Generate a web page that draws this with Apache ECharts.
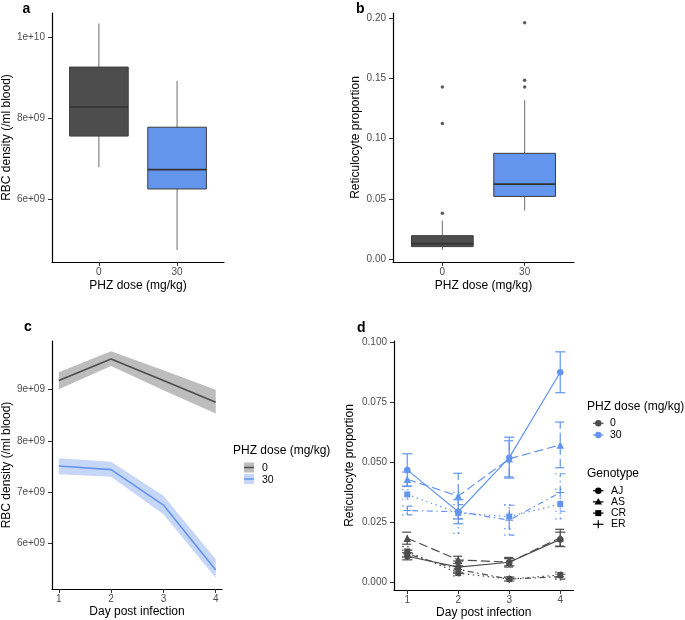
<!DOCTYPE html>
<html><head><meta charset="utf-8">
<script src="https://cdn.jsdelivr.net/npm/echarts@6/dist/echarts.min.js"></script>
<style>html,body{margin:0;padding:0;background:#fff}#c{width:685px;height:620px}</style>
</head><body><div id="c"></div>
<script>
// ---------- DATA ----------
const doseX = [1, 2];
const doseLabels = ['0', '30'];
// boxplots: [lower whisker, Q1, median, Q3, upper whisker]
const rbcBox0 = [6.79e9, 7.56e9, 8.28e9, 9.27e9, 10.35e9];
const rbcBox30 = [4.74e9, 6.25e9, 6.73e9, 7.78e9, 8.93e9];
const retBox0 = [0.0075, 0.0103, 0.0128, 0.0194, 0.032];
const retBox30 = [0.0403, 0.052, 0.0622, 0.0878, 0.132];
const retOutliers0 = [0.038, 0.1125, 0.143];
const retOutliers30 = [0.143, 0.1486, 0.1964];
const rbcTicks = [6e9, 8e9, 1e10];
const rbcTickLabels = ['6e+09', '8e+09', '1e+10'];
const retTicks = [0, 0.05, 0.1, 0.15, 0.2];
const retTickLabels = ['0.00', '0.05', '0.10', '0.15', '0.20'];

const days = [1, 2, 3, 4];
const dayLabels = ['1', '2', '3', '4'];
const rbcDayMean0 = [9.17e9, 9.59e9, 9.17e9, 8.75e9];
const rbcDayLow0 = [9.0e9, 9.45e9, 8.98e9, 8.53e9];
const rbcDayHigh0 = [9.33e9, 9.74e9, 9.37e9, 8.99e9];
const rbcDayMean30 = [7.51e9, 7.44e9, 6.75e9, 5.49e9];
const rbcDayLow30 = [7.35e9, 7.30e9, 6.57e9, 5.34e9];
const rbcDayHigh30 = [7.66e9, 7.59e9, 6.93e9, 5.70e9];
const rbcDayTicks = [6e9, 7e9, 8e9, 9e9];
const rbcDayTickLabels = ['6e+09', '7e+09', '8e+09', '9e+09'];

const genotypes = ['AJ', 'AS', 'CR', 'ER'];
const ret0AJ = [0.011, 0.0065, 0.0085, 0.018];
const ret0AS = [0.0185, 0.0095, 0.0085, 0.0187];
const ret0CR = [0.013, 0.004, 0.0015, 0.0032];
const ret0ER = [0.012, 0.0055, 0.0015, 0.0025];
const se0AJ = [0.0015, 0.0025, 0.0015, 0.003];
const se0AS = [0.0025, 0.0015, 0.002, 0.0035];
const se0CR = [0.002, 0.0012, 0.0008, 0.0012];
const se0ER = [0.0015, 0.0015, 0.0008, 0.001];
const ret30AJ = [0.0469, 0.0295, 0.052, 0.0875];
const ret30AS = [0.043, 0.036, 0.0515, 0.0573];
const ret30CR = [0.0367, 0.029, 0.0275, 0.0327];
const ret30ER = [0.030, 0.0295, 0.026, 0.0375];
const se30AJ = [0.0067, 0.005, 0.0085, 0.0085];
const se30AS = [0.003, 0.0095, 0.0075, 0.0095];
const se30CR = [0.002, 0.0085, 0.005, 0.0062];
const se30ER = [0.0018, 0.003, 0.0062, 0.0078];
const retDayTicks = [0, 0.025, 0.05, 0.075, 0.1];
const retDayTickLabels = ['0.000', '0.025', '0.050', '0.075', '0.100'];

// ---------- STYLE ----------
const FONT = 'Liberation Sans, Arial, sans-serif';
const DARK = '#4D4D4D';
const BLUE = '#6495ED';
const PLUS = 'path://M0,4.4H10V5.6H0Z M4.4,0H5.6V10H4.4Z';

function labelFor(ticks, labels) {
  return function (v) {
    for (let i = 0; i < ticks.length; i++) {
      if (Math.abs(ticks[i] - v) <= Math.abs(ticks[i]) * 1e-6 + 1e-12) return labels[i];
    }
    return '';
  };
}
function axisCfg(kind, gi, min, max, ticks, labels, name, gap) {
  const isX = kind === 'x';
  return {
    type: 'value', gridIndex: gi, min: min, max: max,
    splitLine: { show: false },
    axisLine: { show: true, onZero: false, lineStyle: { color: '#000', width: 1.2 } },
    axisTick: { show: true, customValues: ticks, length: 4, lineStyle: { color: '#333', width: 1 } },
    axisLabel: { customValues: ticks, formatter: labelFor(ticks, labels), color: DARK,
      fontFamily: FONT, fontSize: 10, margin: isX ? 5 : 7 },
    name: name, nameLocation: 'middle', nameGap: gap,
    nameTextStyle: { fontFamily: FONT, fontSize: 12, color: '#000' }
  };
}

const grids = [
  { left: 51, top: 13, width: 173, height: 249 },
  { left: 393, top: 13, width: 181, height: 249 },
  { left: 51.5, top: 341, width: 170.5, height: 248 },
  { left: 394, top: 341, width: 179.5, height: 249 }
];

const xAxes = [
  axisCfg('x', 0, 0.4, 2.6, doseX, doseLabels, 'PHZ dose (mg/kg)', 18),
  axisCfg('x', 1, 0.4, 2.6, doseX, doseLabels, 'PHZ dose (mg/kg)', 18),
  axisCfg('x', 2, 0.87, 4.12, days, dayLabels, 'Day post infection', 17),
  axisCfg('x', 3, 0.74, 4.26, days, dayLabels, 'Day post infection', 17)
];
const yAxes = [
  axisCfg('y', 0, 4.44e9, 10.61e9, rbcTicks, rbcTickLabels, 'RBC density (/ml blood)', 37),
  axisCfg('y', 1, -0.0025, 0.2044, retTicks, retTickLabels, 'Reticulocyte proportion', 31),
  axisCfg('y', 2, 5.12e9, 9.938e9, rbcDayTicks, rbcDayTickLabels, 'RBC density (/ml blood)', 38),
  axisCfg('y', 3, -0.00304, 0.1005, retDayTicks, retDayTickLabels, 'Reticulocyte proportion', 38)
];

function boxRender(fills) {
  return function (params, api) {
    const x = api.value(0);
    const lo = api.value(1), q1 = api.value(2), med = api.value(3), q3 = api.value(4), hi = api.value(5);
    const hw = 0.375;
    const tl = api.coord([x - hw, q3]);
    const br = api.coord([x + hw, q1]);
    const cHi = api.coord([x, hi]), cQ3 = api.coord([x, q3]), cQ1 = api.coord([x, q1]), cLo = api.coord([x, lo]);
    const mL = api.coord([x - hw, med]), mR = api.coord([x + hw, med]);
    const wStyle = { stroke: '#7a7a7a', lineWidth: 1.1 };
    return {
      type: 'group', children: [
        { type: 'line', shape: { x1: cHi[0], y1: cHi[1], x2: cQ3[0], y2: cQ3[1] }, style: wStyle },
        { type: 'line', shape: { x1: cQ1[0], y1: cQ1[1], x2: cLo[0], y2: cLo[1] }, style: wStyle },
        { type: 'rect', shape: { x: tl[0], y: tl[1], width: br[0] - tl[0], height: br[1] - tl[1] },
          style: { fill: fills[params.dataIndex], stroke: '#3d3d3d', lineWidth: 1 } },
        { type: 'line', shape: { x1: mL[0], y1: mL[1], x2: mR[0], y2: mR[1] }, style: { stroke: '#333', lineWidth: 1.6 } }
      ]
    };
  };
}

function bandRender(upper, lower, fill) {
  return function (params, api) {
    if (params.dataIndex !== 0) return null;
    const pts = [];
    for (let i = 0; i < days.length; i++) pts.push(api.coord([days[i], upper[i]]));
    for (let i = days.length - 1; i >= 0; i--) pts.push(api.coord([days[i], lower[i]]));
    return { type: 'polygon', shape: { points: pts }, style: { fill: fill } };
  };
}

function errRender(color, dash) {
  return function (params, api) {
    const x = api.value(0);
    const a = api.coord([x, api.value(1)]), b = api.coord([x, api.value(2)]);
    const l1 = api.coord([x - 0.1, api.value(1)]), r1 = api.coord([x + 0.1, api.value(1)]);
    const l2 = api.coord([x - 0.1, api.value(2)]), r2 = api.coord([x + 0.1, api.value(2)]);
    const st = { stroke: color, lineWidth: 1.2, lineDash: dash === 'solid' ? null : dash };
    return {
      type: 'group', children: [
        { type: 'line', shape: { x1: a[0], y1: a[1], x2: b[0], y2: b[1] }, style: st },
        { type: 'line', shape: { x1: l1[0], y1: l1[1], x2: r1[0], y2: r1[1] }, style: st },
        { type: 'line', shape: { x1: l2[0], y1: l2[1], x2: r2[0], y2: r2[1] }, style: st }
      ]
    };
  };
}

const series = [];
// Panel a
series.push({ type: 'custom', xAxisIndex: 0, yAxisIndex: 0, clip: false,
  renderItem: boxRender([DARK, BLUE]),
  data: [[doseX[0]].concat(rbcBox0), [doseX[1]].concat(rbcBox30)] });
// Panel b
series.push({ type: 'custom', xAxisIndex: 1, yAxisIndex: 1, clip: false,
  renderItem: boxRender([DARK, BLUE]),
  data: [[doseX[0]].concat(retBox0), [doseX[1]].concat(retBox30)] });
series.push({ type: 'scatter', xAxisIndex: 1, yAxisIndex: 1, symbolSize: 3.5,
  itemStyle: { color: '#333' },
  data: retOutliers0.map(v => [doseX[0], v]).concat(retOutliers30.map(v => [doseX[1], v])) });
// Panel c
series.push({ type: 'custom', xAxisIndex: 2, yAxisIndex: 2, renderItem: bandRender(rbcDayHigh0, rbcDayLow0, '#BDBDBD'),
  data: days.map((d, i) => [d, rbcDayMean0[i]]) });
series.push({ type: 'custom', xAxisIndex: 2, yAxisIndex: 2, renderItem: bandRender(rbcDayHigh30, rbcDayLow30, '#C6D6F7'),
  data: days.map((d, i) => [d, rbcDayMean30[i]]) });
series.push({ type: 'line', xAxisIndex: 2, yAxisIndex: 2, showSymbol: false, symbol: 'none',
  lineStyle: { color: DARK, width: 1.6 }, data: days.map((d, i) => [d, rbcDayMean0[i]]) });
series.push({ type: 'line', xAxisIndex: 2, yAxisIndex: 2, showSymbol: false, symbol: 'none',
  lineStyle: { color: BLUE, width: 1.6 }, data: days.map((d, i) => [d, rbcDayMean30[i]]) });
// Panel d
const genoStyles = [
  { symbol: 'circle', size: 6.5, dash: 'solid' },
  { symbol: 'triangle', size: 7.5, dash: [9, 4] },
  { symbol: 'rect', size: 6, dash: [1.5, 3.5] },
  { symbol: PLUS, size: 8, dash: [1.5, 3.5, 6, 3.5] }
];
const doseGroups = [
  { color: DARK, means: [ret0AJ, ret0AS, ret0CR, ret0ER], ses: [se0AJ, se0AS, se0CR, se0ER] },
  { color: BLUE, means: [ret30AJ, ret30AS, ret30CR, ret30ER], ses: [se30AJ, se30AS, se30CR, se30ER] }
];
doseGroups.forEach(g => {
  genotypes.forEach((gt, k) => {
    const st = genoStyles[k];
    const m = g.means[k], s = g.ses[k];
    series.push({ type: 'custom', xAxisIndex: 3, yAxisIndex: 3, clip: false,
      renderItem: errRender(g.color, st.dash),
      data: days.map((d, i) => [d, m[i] - s[i], m[i] + s[i]]) });
    series.push({ type: 'line', xAxisIndex: 3, yAxisIndex: 3, symbol: st.symbol, symbolSize: st.size,
      showSymbol: true, itemStyle: { color: g.color, opacity: 1 },
      lineStyle: { color: g.color, width: 1.2, type: st.dash },
      data: days.map((d, i) => [d, m[i]]) });
  });
});

// ---------- legends & panel letters (graphics) ----------
function txt(x, y, text, size, bold, align) {
  return { type: 'text', x: x, y: y, silent: true,
    style: { text: text, font: (bold ? 'bold ' : '') + size + 'px ' + FONT, fill: '#000',
      align: align || 'left', verticalAlign: 'middle', textAlign: align || 'left', textVerticalAlign: 'middle' } };
}
const graphics = [
  txt(22.5, 9, 'a', 14, true), txt(356, 9, 'b', 14, true),
  txt(24, 327, 'c', 14, true), txt(357, 328, 'd', 14, true),
  // legend c
  txt(233, 451, 'PHZ dose (mg/kg)', 12),
  { type: 'rect', shape: { x: 244, y: 462.5, width: 10, height: 10 }, style: { fill: '#BDBDBD' } },
  { type: 'line', shape: { x1: 244, y1: 467.5, x2: 254, y2: 467.5 }, style: { stroke: DARK, lineWidth: 1.5 } },
  { type: 'rect', shape: { x: 244, y: 474, width: 10, height: 10 }, style: { fill: '#C6D6F7' } },
  { type: 'line', shape: { x1: 244, y1: 479, x2: 254, y2: 479 }, style: { stroke: BLUE, lineWidth: 1.5 } },
  txt(262, 468, doseLabels[0], 10.5), txt(262, 480, doseLabels[1], 10.5),
  // legend d
  txt(587, 407, 'PHZ dose (mg/kg)', 12),
  txt(587, 474, 'Genotype', 12)
];
[DARK, BLUE].forEach((c, i) => {
  const y = 423.3 + i * 11.7;
  graphics.push({ type: 'line', shape: { x1: 593, y1: y, x2: 603.5, y2: y }, style: { stroke: c, lineWidth: 1.2 } });
  graphics.push({ type: 'circle', shape: { cx: 598.3, cy: y, r: 3.2 }, style: { fill: c } });
  graphics.push(txt(610, y, doseLabels[i], 10.5));
});
genotypes.forEach((gt, k) => {
  const y = 490.7 + k * 11.2;
  graphics.push({ type: 'line', shape: { x1: 593, y1: y, x2: 603.5, y2: y }, style: { stroke: '#000', lineWidth: 1.2 } });
  if (k === 0) graphics.push({ type: 'circle', shape: { cx: 598.3, cy: y, r: 3.2 }, style: { fill: '#000' } });
  if (k === 1) graphics.push({ type: 'polygon', shape: { points: [[598.3, y - 3.8], [594.5, y + 2.6], [602.1, y + 2.6]] }, style: { fill: '#000' } });
  if (k === 2) graphics.push({ type: 'rect', shape: { x: 595.3, y: y - 3, width: 6, height: 6 }, style: { fill: '#000' } });
  if (k === 3) graphics.push({ type: 'line', shape: { x1: 598.3, y1: y - 4, x2: 598.3, y2: y + 4 }, style: { stroke: '#000', lineWidth: 1.2 } });
  graphics.push(txt(611, y, gt, 10.5));
});

const chart = echarts.init(document.getElementById('c'), null, { renderer: 'canvas' });
chart.setOption({
  animation: false,
  backgroundColor: '#fff',
  textStyle: { fontFamily: FONT },
  grid: grids,
  xAxis: xAxes,
  yAxis: yAxes,
  series: series,
  graphic: graphics
});
</script></body></html>
